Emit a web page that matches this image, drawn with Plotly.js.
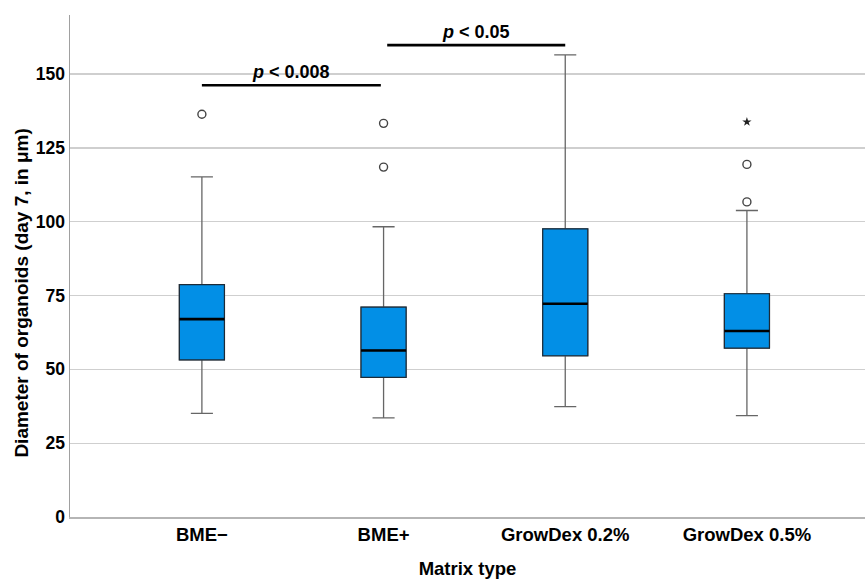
<!DOCTYPE html>
<html>
<head>
<meta charset="utf-8">
<script src="https://cdn.plot.ly/plotly-3.0.1.min.js"></script>
<style>html,body{margin:0;padding:0;background:#fff;}#chart{width:865px;height:579px;}</style>
</head>
<body>
<div id="chart"></div>
<script>
// ---- data ----
const categories = ["BME\u2212", "BME+", "GrowDex 0.2%", "GrowDex 0.5%"];
const lowerWhisker = [35.1, 33.6, 37.4, 34.3];
const q1Values     = [53.2, 47.3, 54.6, 57.2];
const medianValues = [67.0, 56.4, 72.2, 63.0];
const q3Values     = [78.7, 71.1, 97.6, 75.6];
const upperWhisker = [115.2, 98.3, 156.5, 103.8];

const outlierCategory = ["BME\u2212", "BME+", "BME+", "GrowDex 0.5%", "GrowDex 0.5%"];
const outlierValues   = [136.4, 133.3, 118.5, 119.4, 106.7];
const extremeCategory = ["GrowDex 0.5%"];
const extremeValues   = [133.8];

const sigFrom   = [0, 1.02];
const sigTo     = [0.985, 2];
const sigY      = [146.2, 159.8];
const sigLabels = ["<i>p</i> &lt; 0.008", "<i>p</i> &lt; 0.05"];

const yTicks = [0, 25, 50, 75, 100, 125, 150];
const yTitle = "Diameter of organoids (day 7, in \u03bcm)";
const xTitle = "Matrix type";

// ---- styling ----
const boxWidth = 0.248;
const fnt = "Liberation Sans, Arial, sans-serif";

const whiskerTrace = {
  type: "box", x: categories,
  q1: q1Values, median: medianValues, q3: q3Values,
  lowerfence: lowerWhisker, upperfence: upperWhisker,
  width: boxWidth, whiskerwidth: 0.49,
  fillcolor: "#028fe6", line: {color: "#666666", width: 1.3},
  boxpoints: false, hoverinfo: "skip", showlegend: false
};
const boxTrace = {
  type: "box", x: categories,
  q1: q1Values, median: medianValues, q3: q3Values,
  lowerfence: q1Values, upperfence: q3Values,
  width: boxWidth, whiskerwidth: 0,
  fillcolor: "#028fe6", line: {color: "#1d2b38", width: 1.2},
  boxpoints: false, hoverinfo: "skip", showlegend: false
};
const outTrace = {
  type: "scatter", mode: "markers", x: outlierCategory, y: outlierValues,
  marker: {symbol: "circle-open", size: 8, color: "#444", line: {width: 1.4, color: "#444"}},
  showlegend: false, hoverinfo: "skip"
};
const extTrace = {
  type: "scatter", mode: "markers", x: extremeCategory, y: extremeValues,
  marker: {symbol: "star", size: 7, color: "#222"},
  showlegend: false, hoverinfo: "skip"
};

const shapes = [];
medianValues.forEach((m, i) => {
  shapes.push({type: "line", xref: "x", yref: "y", x0: i - boxWidth/2, x1: i + boxWidth/2,
               y0: m, y1: m, line: {color: "#000", width: 2.6}, layer: "above"});
});
sigY.forEach((v, i) => {
  shapes.push({type: "line", xref: "x", yref: "y", x0: sigFrom[i], x1: sigTo[i],
               y0: v, y1: v, line: {color: "#000", width: 2.6}, layer: "above"});
});
const annotations = sigY.map((v, i) => ({
  xref: "x", yref: "y", x: (sigFrom[i] + sigTo[i]) / 2, y: v,
  text: "<b>" + sigLabels[i] + "</b>", showarrow: false,
  yanchor: "bottom", yshift: 1,
  font: {family: fnt, size: 18, color: "#000"}
}));
annotations.push({
  xref: "paper", yref: "paper", x: -0.061, y: 0.446, xanchor: "center", yanchor: "middle",
  text: "<b>" + yTitle + "</b>", textangle: -90, showarrow: false,
  font: {family: fnt, size: 19, color: "#000"}
});

const layout = {
  width: 865, height: 579,
  margin: {l: 70, r: 0, t: 15, b: 62},
  paper_bgcolor: "#fff", plot_bgcolor: "#fff",
  showlegend: false,
  xaxis: {
    type: "category", categoryarray: categories, range: [-0.726, 3.65],
    showgrid: false, zeroline: false, showline: true, linecolor: "#b5b5b5", linewidth: 1.5,
    ticks: "", tickfont: {family: fnt, size: 18.5, color: "#000", weight: "bold"},
    title: {text: "<b>" + xTitle + "</b>", font: {family: fnt, size: 18.5, color: "#000"}, standoff: 21}
  },
  yaxis: {
    range: [0, 170], tickvals: yTicks, ticktext: yTicks.map(String),
    showgrid: true, gridcolor: "#cfcfcf", gridwidth: 1.3, zeroline: false,
    showline: true, linecolor: "#a0a0a0", linewidth: 1.5, ticks: "",
    tickfont: {family: fnt, size: 17.5, color: "#000", weight: "bold"}
  },
  shapes: shapes,
  annotations: annotations
};

Plotly.newPlot("chart", [whiskerTrace, boxTrace, outTrace, extTrace], layout, {staticPlot: true, displayModeBar: false});
</script>
</body>
</html>
